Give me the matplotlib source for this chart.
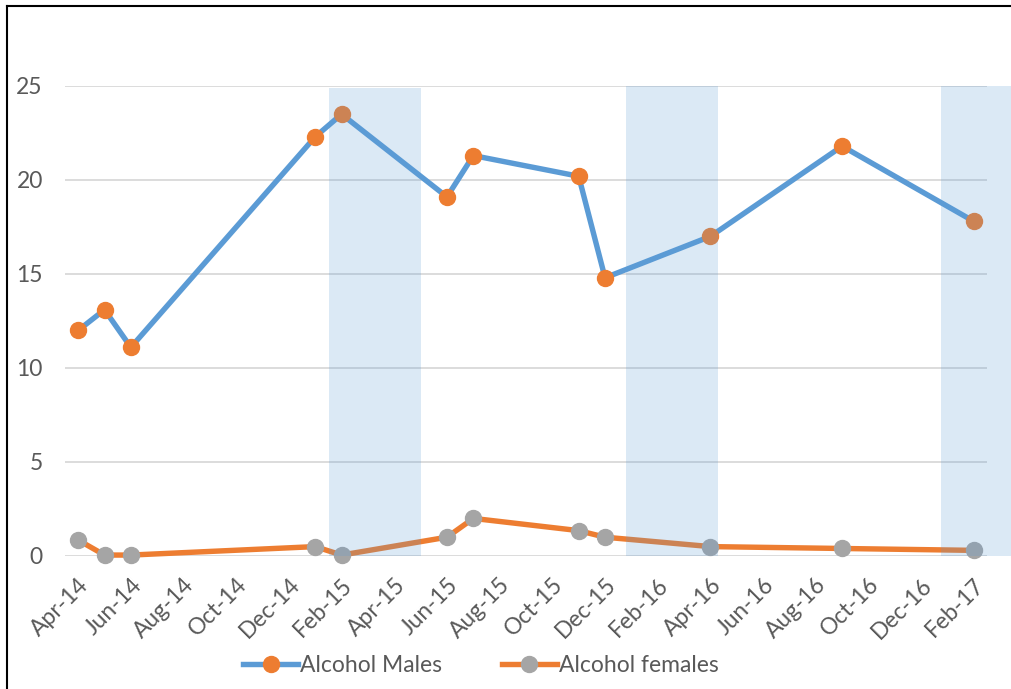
import matplotlib
matplotlib.use("Agg")
import matplotlib.pyplot as plt
import pandas as pd
from matplotlib.lines import Line2D

plt.rcParams['font.family'] = ['Lato', 'DejaVu Sans']

# ---- data ----
dates = ["Apr-14", "May-14", "Jun-14", "Jan-15", "Feb-15", "Jun-15", "Jul-15",
         "Nov-15", "Dec-15", "Apr-16", "Sep-16", "Feb-17"]
males = [12.0, 13.1, 11.1, 22.3, 23.5, 19.1, 21.3, 20.2, 14.8, 17.0, 21.8, 17.8]
females = [0.85, 0.05, 0.05, 0.5, 0.05, 1.0, 2.0, 1.35, 1.0, 0.5, 0.4, 0.3]
tick_labels = ["Apr-14", "Jun-14", "Aug-14", "Oct-14", "Dec-14", "Feb-15", "Apr-15",
               "Jun-15", "Aug-15", "Oct-15", "Dec-15", "Feb-16", "Apr-16", "Jun-16",
               "Aug-16", "Oct-16", "Dec-16", "Feb-17"]
# shaded periods (in months since Apr-14)
band_start = [9.53, 20.8, 32.75]
band_end = [13.0, 24.27, 35.5]
band_top = [24.9, 25.0, 25.0]

# ---- helpers ----
origin = pd.Timestamp("2014-04-01")
def month_index(labels):
    d = pd.to_datetime(labels, format="%b-%y")
    return [(x.year - origin.year) * 12 + (x.month - origin.month) for x in d]

x = month_index(dates)
xt = month_index(tick_labels)

BLUE = "#5B9BD5"
ORANGE = "#ED7D31"
GRAY = "#A5A5A5"
TXT = "#595959"
FS = 16.5
LW = 3.9
MS = 11.5

fig = plt.figure(figsize=(10.11, 6.89), dpi=100)
ax = fig.add_axes([65/1011, 1-556/689, (987-65)/1011, (556-86)/689])

ax.set_xlim(-0.5, 34.5)
ax.set_ylim(0, 25)
ax.set_yticks([0, 5, 10, 15, 20, 25])
ax.yaxis.grid(True, color="#D9D9D9", linewidth=1.3, zorder=0)
ax.set_axisbelow(True)
for s in ax.spines.values():
    s.set_visible(False)
ax.tick_params(axis='both', length=0, colors=TXT, labelsize=FS)
ax.tick_params(axis='y', pad=16)
ax.set_xticks(xt)
ax.set_xticklabels(tick_labels, rotation=45, ha='right', rotation_mode='anchor')
ax.tick_params(axis='x', pad=13)

ax.plot(x, males, color=BLUE, lw=LW, marker='o', ms=MS, mfc=ORANGE, mec=ORANGE,
        zorder=3, clip_on=False, solid_joinstyle='round')
ax.plot(x, females, color=ORANGE, lw=LW, marker='o', ms=MS, mfc=GRAY, mec=GRAY,
        zorder=3, clip_on=False, solid_joinstyle='round')

for s0, s1, top in zip(band_start, band_end, band_top):
    ax.bar(s0, top, width=s1 - s0, align='edge', color=BLUE, alpha=0.22,
           linewidth=0, zorder=5, clip_on=False)

handles = [Line2D([], [], color=BLUE, lw=LW, marker='o', ms=MS, mfc=ORANGE, mec=ORANGE),
           Line2D([], [], color=ORANGE, lw=LW, marker='o', ms=MS, mfc=GRAY, mec=GRAY)]
fig.legend(handles, ["Alcohol Males", "Alcohol females"], loc='center',
           bbox_to_anchor=(481/1011, 1-666/689), ncol=2, frameon=False,
           fontsize=FS, labelcolor=TXT, handlelength=2.4, handletextpad=0.1,
           columnspacing=2.6)

# chart border (left and top)
fig.add_artist(Line2D([7/1011, 7/1011], [0, 1-6/689], color='black', lw=1.5,
                      transform=fig.transFigure))
fig.add_artist(Line2D([7/1011, 1], [1-6/689, 1-6/689], color='black', lw=1.5,
                      transform=fig.transFigure))

fig.savefig("out.png", dpi=100, facecolor='white')
